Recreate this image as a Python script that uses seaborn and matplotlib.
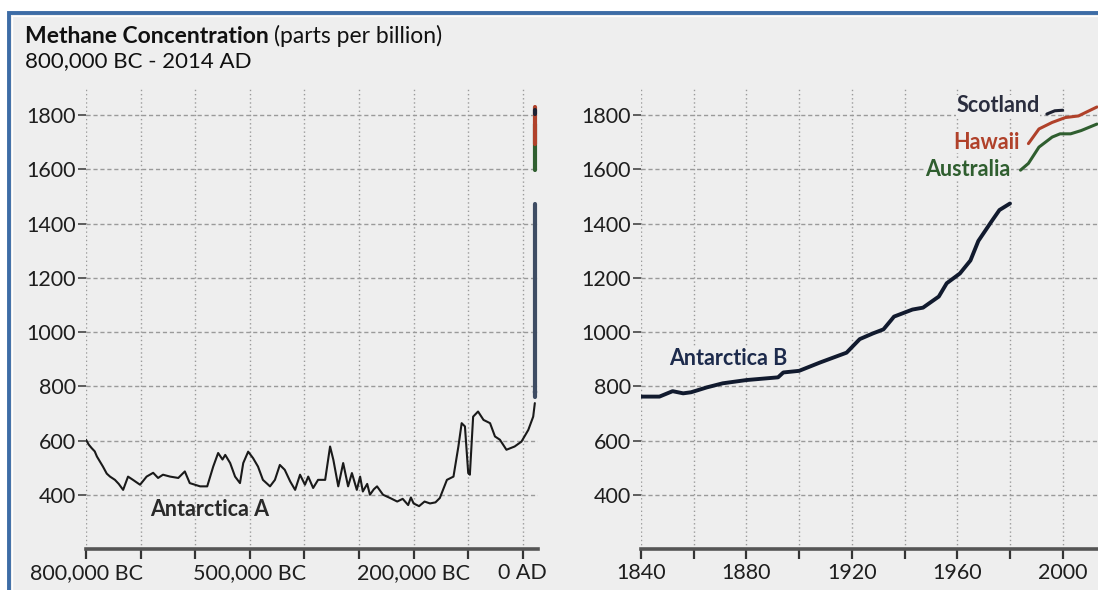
import numpy as np
import pandas as pd
import seaborn as sns
import matplotlib
matplotlib.use("Agg")
import matplotlib.pyplot as plt
from matplotlib.patches import Rectangle

# ---------------- data ----------------
antA_year = [-800000, -795000, -789600, -784000, -780000, -769000, -762000, -756000,
             -747000, -740000, -732000, -723000, -714000, -701000, -689000, -677000,
             -668000, -659000, -646000, -631000, -619000, -610000, -591000, -578000,
             -567000, -558000, -550000, -545000, -536000, -527000, -518000, -512000,
             -503000, -494000, -485000, -476000, -463000, -454000, -445000, -436000,
             -426000, -417000, -408000, -399000, -393000, -384000, -375000, -362000,
             -353000, -347000, -338000, -329000, -320000, -313000, -304000, -298000,
             -293000, -285000, -280000, -273000, -267000, -256000, -243000, -230000,
             -220000, -210000, -205000, -200000, -190000, -180000, -170000, -160000,
             -152000, -139000, -127000, -118000, -112000, -106000, -100000, -97000,
             -91000, -82000, -72000, -60000, -51000, -42000, -30000, -15000, -2500,
             10000, 19000, 22000]
antA_ppb = [603, 585, 572, 560, 541, 504, 478, 467, 455, 440, 418, 467, 455, 437, 467,
            481, 462, 474, 467, 462, 486, 443, 431, 431, 504, 554, 530, 547, 517, 467,
            443, 517, 559, 535, 504, 455, 431, 455, 510, 492, 449, 418, 474, 437, 467,
            425, 455, 455, 578, 529, 431, 517, 431, 480, 418, 467, 412, 440, 400, 420,
            431, 400, 388, 375, 385, 362, 390, 368, 358, 375, 368, 372, 388, 455, 467,
            578, 664, 652, 480, 474, 688, 707, 676, 664, 615, 603, 566, 578, 596, 639,
            688, 738]

antB_year = [1840, 1847, 1852, 1856, 1859, 1865, 1871, 1880, 1892, 1894, 1900, 1908,
             1918, 1923, 1928, 1932, 1935, 1936, 1943, 1947, 1953, 1956, 1961, 1965,
             1968, 1973, 1976, 1980]
antB_ppb = [762, 762, 782, 774, 778, 796, 811, 823, 833, 851, 857, 888, 924, 974, 995,
            1010, 1045, 1057, 1083, 1090, 1131, 1180, 1216, 1264, 1336, 1408, 1450, 1474]

aus_year = [1984, 1987, 1991, 1996, 1999, 2003, 2007, 2013]
aus_ppb = [1597, 1622, 1682, 1719, 1731, 1731, 1743, 1767]

haw_year = [1987, 1991, 1996, 2001, 2006, 2013]
haw_ppb = [1695, 1749, 1773, 1791, 1797, 1830]

sco_year = [1994, 1997, 2000]
sco_ppb = [1804, 1816, 1818]

# where the compressed 1840-2014 segment sits on the long-term axis
modern_pos = 22000

left_ticks = list(range(-800000, 1, 100000))
left_labels = ["800,000 BC", "", "", "500,000 BC", "", "", "200,000 BC", "", "0 AD"]
right_ticks = list(range(1840, 2001, 20))
right_labels = ["1840", "", "1880", "", "1920", "", "1960", "", "2000"]
y_ticks = [400, 600, 800, 1000, 1200, 1400, 1600, 1800]

# ---------------- style ----------------
sns.set_theme(style="white")
plt.rcParams["font.family"] = ["Lato", "DejaVu Sans"]

BG = "#eeeeee"
C_A = "#1a1a1a"
C_B = "#111a2e"
C_B_LEFT = "#3e4c63"
C_HAW = "#b0412a"
C_AUS = "#2f5e2f"
C_SCO = "#1e2233"
TXT = "#1e1e1e"
FS = 15.5

W, H = 1098, 590
fig = plt.figure(figsize=(W / 100, H / 100), dpi=100, facecolor="white")

# blue framed panel (top-left corner visible, rest runs off the canvas)
top = 1 - 13 / H
fig.patches.append(Rectangle((9 / W, -0.2), 1.3, top + 0.2,
                             transform=fig.transFigure, facecolor=BG,
                             edgecolor="#3d6ca6", linewidth=2.8, zorder=-5))
fig.patches.append(Rectangle((11.5 / W, -0.2), 1.3, top + 0.2 - 2.5 / H,
                             transform=fig.transFigure, facecolor="none",
                             edgecolor="white", linewidth=0.9, zorder=-4))

ax_top, ax_bot = 88, 549
axL = fig.add_axes([86 / W, 1 - ax_bot / H, 452 / W, (ax_bot - ax_top) / H])
axR = fig.add_axes([641 / W, 1 - ax_bot / H, (W - 641) / W, (ax_bot - ax_top) / H])


def style_axis(ax):
    ax.patch.set_alpha(0)
    for s in ["top", "right", "left"]:
        ax.spines[s].set_visible(False)
    ax.spines["bottom"].set_color("#555555")
    ax.spines["bottom"].set_linewidth(2.6)
    ax.set_ylim(200, 1900)
    ax.set_yticks(y_ticks)
    ax.xaxis.grid(True, color="#9a9a9a", linestyle=(0, (1, 2)), linewidth=1.0)
    ax.yaxis.grid(True, color="#9a9a9a", linestyle=(0, (3, 2)), linewidth=1.0)
    ax.set_axisbelow(True)
    ax.tick_params(axis="x", which="both", direction="out", length=7, width=1.6,
                   color="#333333", labelsize=FS, labelcolor=TXT, pad=3, bottom=True)
    ax.tick_params(axis="y", direction="out", length=6, width=1.2, color="#444444",
                   labelsize=FS, labelcolor=TXT, pad=1, left=True)
    ax.set_xlabel("")
    ax.set_ylabel("")


# ---------------- left: long-term record ----------------
dfA = pd.DataFrame({"year": antA_year, "ppb": antA_ppb})
sns.lineplot(data=dfA, x="year", y="ppb", ax=axL, color=C_A, linewidth=1.5,
             estimator=None, sort=False)
sns.lineplot(x=[modern_pos] * len(antB_ppb), y=antB_ppb, ax=axL, color=C_B_LEFT,
             linewidth=3.0, estimator=None, sort=False)
sns.lineplot(x=[modern_pos] * len(aus_ppb), y=aus_ppb, ax=axL, color=C_AUS,
             linewidth=3.0, estimator=None, sort=False)
sns.lineplot(x=[modern_pos] * len(haw_ppb), y=haw_ppb, ax=axL, color=C_HAW,
             linewidth=3.0, estimator=None, sort=False)
sns.lineplot(x=[modern_pos] * len(sco_ppb), y=sco_ppb, ax=axL, color=C_SCO,
             linewidth=3.0, estimator=None, sort=False)
style_axis(axL)
axL.set_xlim(-800000, 27800)
axL.set_xticks(left_ticks)
axL.set_xticklabels(left_labels)
axL.text(-573000, 345, "Antarctica A", ha="center", va="center", fontsize=FS,
         fontweight="bold", color="#2a2a2a")

# ---------------- right: modern record ----------------
sns.lineplot(x=antB_year, y=antB_ppb, ax=axR, color=C_B, linewidth=2.8,
             estimator=None, sort=False)
sns.lineplot(x=aus_year, y=aus_ppb, ax=axR, color=C_AUS, linewidth=2.2,
             estimator=None, sort=False)
sns.lineplot(x=haw_year, y=haw_ppb, ax=axR, color=C_HAW, linewidth=2.2,
             estimator=None, sort=False)
sns.lineplot(x=sco_year, y=sco_ppb, ax=axR, color=C_SCO, linewidth=2.2,
             estimator=None, sort=False)
style_axis(axR)
axR.set_xlim(1840, 2013.4)
axR.set_xticks(right_ticks)
axR.set_xticklabels(right_labels)

box = dict(facecolor=BG, edgecolor="none", pad=0.5)
axR.text(1873, 902, "Antarctica B", ha="center", va="center", fontsize=FS,
         fontweight="bold", color="#1d2b4c", bbox=box)
axR.text(1991.3, 1834, "Scotland", ha="right", va="center", fontsize=FS,
         fontweight="bold", color="#2a2d3e", bbox=box)
axR.text(1983.6, 1700, "Hawaii", ha="right", va="center", fontsize=FS,
         fontweight="bold", color=C_HAW, bbox=box)
axR.text(1980, 1598, "Australia", ha="right", va="center", fontsize=FS,
         fontweight="bold", color=C_AUS, bbox=box)

# ---------------- title ----------------
t1 = fig.text(25 / W, 1 - 43 / H, "Methane Concentration", fontsize=16.5,
              fontweight="bold", color="#111111", va="baseline", ha="left")
fig.canvas.draw()
bb = t1.get_window_extent(renderer=fig.canvas.get_renderer())
fig.text(bb.x1 / W + 5 / W, 1 - 43 / H, "(parts per billion)", fontsize=16.5,
         color="#111111", va="baseline", ha="left")
fig.text(25 / W, 1 - 67 / H, "800,000 BC - 2014 AD", fontsize=16,
         color="#111111", va="baseline", ha="left")

fig.savefig("out.png", dpi=100, facecolor="white")
